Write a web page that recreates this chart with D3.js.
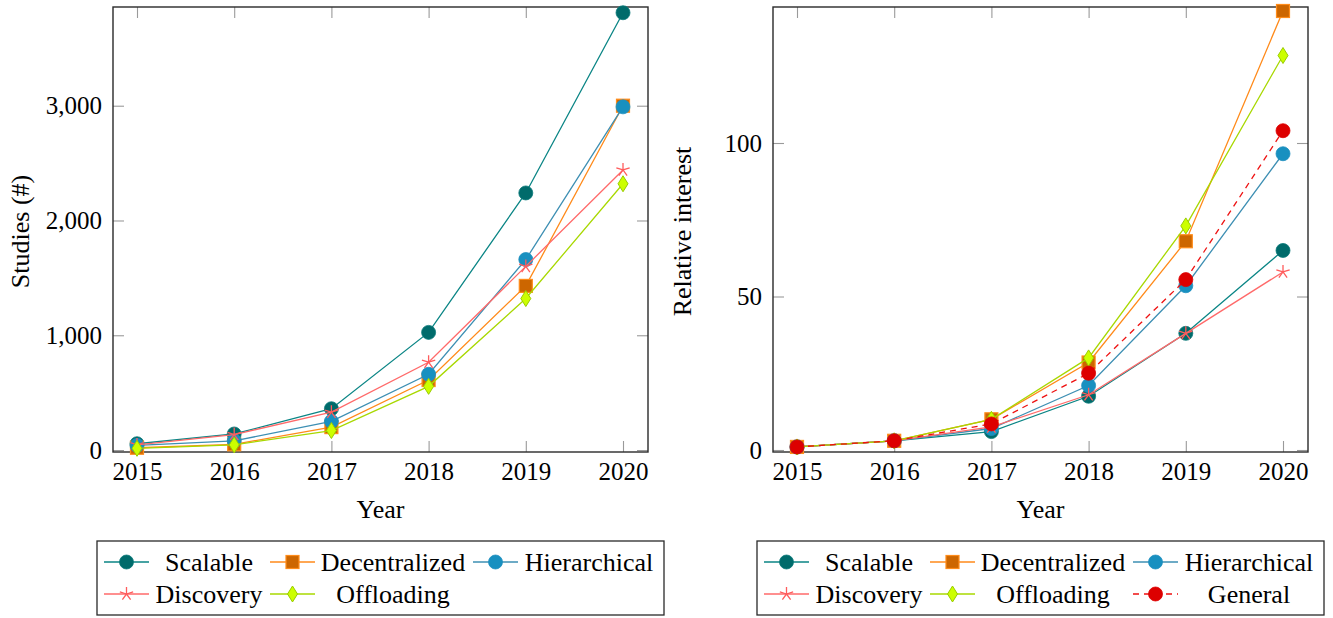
<!DOCTYPE html>
<html>
<head>
<meta charset="utf-8">
<script src="https://cdn.jsdelivr.net/npm/d3@7/dist/d3.min.js"></script>
<style>
  html, body { margin: 0; padding: 0; background: #fff; }
  svg { display: block; }
  text { font-family: "Liberation Serif", "Times New Roman", serif; fill: #000; }
</style>
</head>
<body>
<svg id="chart" width="1333" height="618"></svg>
<script>
// ---- data ----
const years = [2015, 2016, 2017, 2018, 2019, 2020];

// Number of studies published per year
const studiesScalable      = [55, 140, 360, 1025, 2240, 3810];
const studiesDecentralized = [20, 50, 200, 610, 1430, 3000];
const studiesHierarchical  = [40, 80, 250, 660, 1660, 2990];
const studiesDiscovery     = [45, 135, 330, 765, 1600, 2440];
const studiesOffloading    = [15, 45, 170, 555, 1320, 2320];
const studiesTicks = [0, 1000, 2000, 3000];

// Relative interest per year
const interestScalable      = [1, 3, 6, 17.5, 38, 65];
const interestDecentralized = [1, 3, 10, 28.5, 68, 143];
const interestHierarchical  = [1, 3, 7, 21, 53.5, 96.5];
const interestDiscovery     = [1, 3, 7.5, 18, 38, 58];
const interestOffloading    = [1, 3, 10, 30, 73, 128.5];
const interestGeneral       = [1, 3, 8.5, 25, 55.5, 104];
const interestTicks = [0, 50, 100];

// ---- styles per series ----
const styles = {
  Scalable:      { line: "#0a8585", fill: "#006b6b", stroke: "#0a7a7a", marker: "circle" },
  Decentralized: { line: "#ff8a1a", fill: "#cc6600", stroke: "#ff8c1a", marker: "square" },
  Hierarchical:  { line: "#3d8fb3", fill: "#1890c0", stroke: "#1f8fbf", marker: "circle" },
  Discovery:     { line: "#ff6a6a", fill: "none",    stroke: "#ff5c5c", marker: "star" },
  Offloading:    { line: "#a8d800", fill: "#ccff00", stroke: "#99cc00", marker: "diamond" },
  General:       { line: "#ee1111", fill: "#dd0000", stroke: "#dd0000", marker: "circle", dash: "6,5" }
};

const svg = d3.select("#chart");
const FONT_TICK = 25, FONT_TITLE = 26, FONT_LEGEND = 26;

function drawMarker(g, kind, st, cx, cy) {
  if (kind === "circle") {
    g.append("circle").attr("cx", cx).attr("cy", cy).attr("r", 7)
      .attr("fill", st.fill).attr("stroke", st.stroke).attr("stroke-width", 0.8);
  } else if (kind === "square") {
    g.append("rect").attr("x", cx - 6.5).attr("y", cy - 6.5).attr("width", 13).attr("height", 13)
      .attr("fill", st.fill).attr("stroke", st.stroke).attr("stroke-width", 1.2);
  } else if (kind === "diamond") {
    g.append("path").attr("d", `M${cx},${cy - 8}L${cx + 5},${cy}L${cx},${cy + 8}L${cx - 5},${cy}Z`)
      .attr("fill", st.fill).attr("stroke", st.stroke).attr("stroke-width", 1);
  } else if (kind === "star") {
    const r = 7;
    let d = "";
    for (let k = 0; k < 5; k++) {
      const a = (-90 + k * 72) * Math.PI / 180;
      d += `M${cx},${cy}L${cx + r * Math.cos(a)},${cy + r * Math.sin(a)}`;
    }
    g.append("path").attr("d", d).attr("fill", "none")
      .attr("stroke", st.stroke).attr("stroke-width", 1.3);
  }
}

function drawPanel(box, yDomain, yTicks, series, yTitle, titleX) {
  const x = d3.scaleLinear().domain([2015, 2020]).range([box.left + 24, box.right - 25]);
  const y = d3.scaleLinear().domain(yDomain).range([box.bottom, box.top]);
  const g = svg.append("g");

  // ticks (inward, all four sides)
  const tickStyle = sel => {
    sel.select(".domain").remove();
    sel.selectAll(".tick line").attr("stroke", "#9a9a9a").attr("stroke-width", 1.1);
    sel.selectAll(".tick text").attr("font-size", FONT_TICK)
      .attr("font-family", '"Liberation Serif", "Times New Roman", serif').attr("fill", "#000");
  };
  g.append("g").attr("transform", `translate(0,${box.bottom})`)
    .call(d3.axisBottom(x).tickValues(years).tickFormat(d3.format("d")).tickSize(-11).tickPadding(10))
    .call(tickStyle);
  g.append("g").attr("transform", `translate(0,${box.top})`)
    .call(d3.axisTop(x).tickValues(years).tickFormat("").tickSize(-11))
    .call(tickStyle);
  g.append("g").attr("transform", `translate(${box.left},0)`)
    .call(d3.axisLeft(y).tickValues(yTicks).tickFormat(d3.format(",")).tickSize(-11).tickPadding(11))
    .call(tickStyle);
  g.append("g").attr("transform", `translate(${box.right},0)`)
    .call(d3.axisRight(y).tickValues(yTicks).tickFormat("").tickSize(-11))
    .call(tickStyle);

  // frame
  g.append("rect").attr("x", box.left).attr("y", box.top)
    .attr("width", box.right - box.left).attr("height", box.bottom - box.top)
    .attr("fill", "none").attr("stroke", "#2a2a2a").attr("stroke-width", 1.4);

  // series
  const line = d3.line().x((d, i) => x(years[i])).y(d => y(d));
  series.forEach(s => {
    const st = styles[s.name];
    const sg = g.append("g");
    sg.append("path").attr("d", line(s.values)).attr("fill", "none")
      .attr("stroke", st.line).attr("stroke-width", 1.3)
      .attr("stroke-dasharray", st.dash || null);
    s.values.forEach((v, i) => drawMarker(sg, st.marker, st, x(years[i]), y(v)));
  });

  // axis titles
  g.append("text").attr("x", (box.left + box.right) / 2).attr("y", 518)
    .attr("text-anchor", "middle").attr("font-size", FONT_TITLE).text("Year");
  g.append("text").attr("transform", `translate(${titleX},${(box.top + box.bottom) / 2 + 2}) rotate(-90)`)
    .attr("text-anchor", "middle").attr("dominant-baseline", "central")
    .attr("font-size", FONT_TITLE).text(yTitle);
}

function drawLegend(left, names) {
  const g = svg.append("g");
  g.append("rect").attr("x", left).attr("y", 541).attr("width", 567).attr("height", 74)
    .attr("fill", "#fff").attr("stroke", "#2a2a2a").attr("stroke-width", 1.3);
  const colSample = [7, 173, 376];
  const colText = [112, 296, 492];
  const rowY = [562, 594];
  names.forEach((name, i) => {
    const st = styles[name];
    const c = i % 3, r = Math.floor(i / 3);
    const x0 = left + colSample[c], yy = rowY[r];
    g.append("line").attr("x1", x0).attr("x2", x0 + 45).attr("y1", yy).attr("y2", yy)
      .attr("stroke", st.line).attr("stroke-width", 1.3).attr("stroke-dasharray", st.dash || null);
    drawMarker(g, st.marker, st, x0 + 22.5, yy);
    g.append("text").attr("x", left + colText[c]).attr("y", yy)
      .attr("text-anchor", "middle").attr("dominant-baseline", "central")
      .attr("font-size", FONT_LEGEND).text(name);
  });
}

// Left panel: studies
drawPanel({ left: 113, right: 648, top: 7, bottom: 452 }, [-17, 3860], studiesTicks, [
  { name: "Scalable", values: studiesScalable },
  { name: "Decentralized", values: studiesDecentralized },
  { name: "Hierarchical", values: studiesHierarchical },
  { name: "Discovery", values: studiesDiscovery },
  { name: "Offloading", values: studiesOffloading }
], "Studies (#)", 20);

// Right panel: relative interest
drawPanel({ left: 773, right: 1308, top: 7, bottom: 452 }, [-0.65, 144.3], interestTicks, [
  { name: "Scalable", values: interestScalable },
  { name: "Decentralized", values: interestDecentralized },
  { name: "Hierarchical", values: interestHierarchical },
  { name: "Discovery", values: interestDiscovery },
  { name: "Offloading", values: interestOffloading },
  { name: "General", values: interestGeneral }
], "Relative interest", 682);

drawLegend(97, ["Scalable", "Decentralized", "Hierarchical", "Discovery", "Offloading"]);
drawLegend(757, ["Scalable", "Decentralized", "Hierarchical", "Discovery", "Offloading", "General"]);
</script>
</body>
</html>
